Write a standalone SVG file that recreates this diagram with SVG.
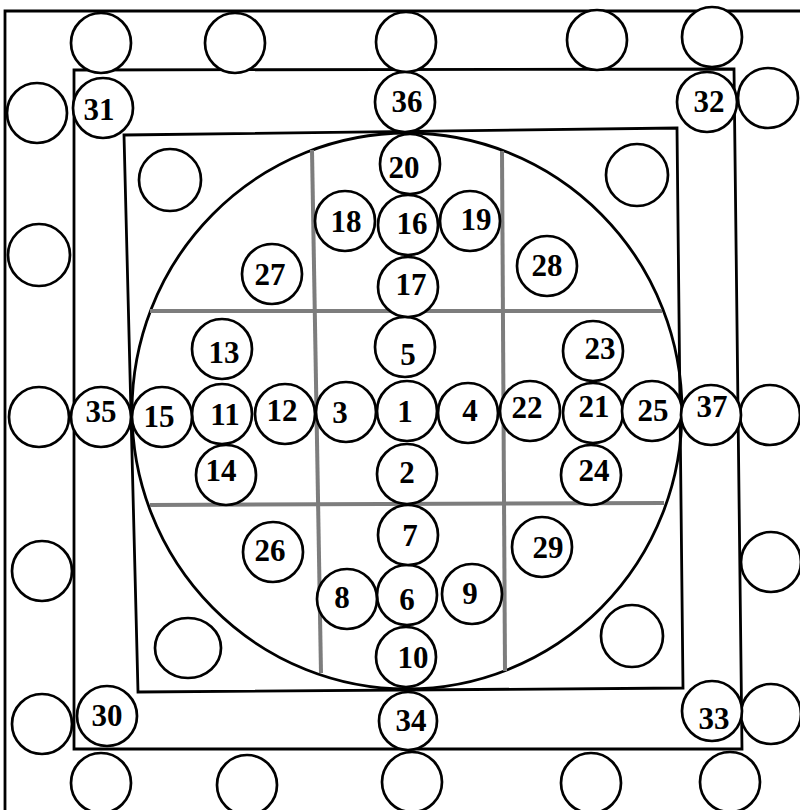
<svg xmlns="http://www.w3.org/2000/svg" width="800" height="810" viewBox="0 0 800 810">
<style>
.f{fill:none;stroke:#000;stroke-width:2.8}
.c{fill:#fff;stroke:#000;stroke-width:2.7}
.g{fill:none;stroke:#7d7d7d;stroke-width:4}
.t{font-family:"Liberation Serif","Times New Roman",serif;font-weight:bold;font-size:31px;text-anchor:middle;fill:#000}
</style>
<rect width="800" height="810" fill="#fff"/>
<g id="frames">
<path class="f" d="M5,810 V11 H800"/>
<path class="f" d="M74,70 L734,69 L742,749 L74,749 Z"/>
<path class="f" d="M124,135 L677,128 L683,688 L138,692 Z"/>
<ellipse class="f" cx="407" cy="411" rx="275" ry="278"/>
</g>
<g id="grid">
<path class="g" d="M312,150 L321,673"/>
<path class="g" d="M502,151 L505,671"/>
<path class="g" d="M150,311 L662,311"/>
<path class="g" d="M150,505 L664,503"/>
</g>
<g id="empty">
<circle class="c" cx="101" cy="43" r="30"/>
<circle class="c" cx="235" cy="43" r="30"/>
<circle class="c" cx="406" cy="42" r="30"/>
<circle class="c" cx="597" cy="40" r="30"/>
<circle class="c" cx="712" cy="37" r="30"/>
<circle class="c" cx="101" cy="783" r="30"/>
<circle class="c" cx="247" cy="785" r="30"/>
<circle class="c" cx="412" cy="782" r="30"/>
<circle class="c" cx="591" cy="783" r="30"/>
<circle class="c" cx="730" cy="782" r="30"/>
<circle class="c" cx="37" cy="113" r="30"/>
<circle class="c" cx="39" cy="255" r="31"/>
<circle class="c" cx="39" cy="417" r="30"/>
<circle class="c" cx="42" cy="571" r="30"/>
<circle class="c" cx="42" cy="724" r="30"/>
<circle class="c" cx="768" cy="98" r="30"/>
<circle class="c" cx="770" cy="415" r="30"/>
<circle class="c" cx="771" cy="562" r="30"/>
<circle class="c" cx="771" cy="714" r="30"/>
<circle class="c" cx="170" cy="180" r="31"/>
<circle class="c" cx="637" cy="175" r="31"/>
<ellipse class="c" cx="188" cy="648" rx="33" ry="30"/>
<circle class="c" cx="632" cy="636" r="31"/>
</g>
<g id="n1"><circle class="c" cx="407" cy="411" r="30"/><text class="t" x="405" y="422">1</text></g>
<g id="n2"><circle class="c" cx="407" cy="474" r="30"/><text class="t" x="407" y="483">2</text></g>
<g id="n3"><circle class="c" cx="346" cy="412" r="30"/><text class="t" x="340" y="423">3</text></g>
<g id="n4"><circle class="c" cx="468" cy="413" r="30"/><text class="t" x="470" y="421">4</text></g>
<g id="n5"><circle class="c" cx="405" cy="347" r="30"/><text class="t" x="408" y="365">5</text></g>
<g id="n6"><circle class="c" cx="407" cy="595" r="30"/><text class="t" x="407" y="610">6</text></g>
<g id="n7"><circle class="c" cx="408" cy="535" r="30"/><text class="t" x="410" y="546">7</text></g>
<g id="n8"><circle class="c" cx="347" cy="599" r="30"/><text class="t" x="342" y="608">8</text></g>
<g id="n9"><circle class="c" cx="472" cy="594" r="30"/><text class="t" x="470" y="604">9</text></g>
<g id="n10"><circle class="c" cx="406" cy="657" r="30"/><text class="t" x="413" y="668">10</text></g>
<g id="n11"><circle class="c" cx="222" cy="414" r="30"/><text class="t" x="225" y="425">11</text></g>
<g id="n12"><circle class="c" cx="285" cy="414" r="30"/><text class="t" x="282" y="421">12</text></g>
<g id="n13"><circle class="c" cx="222" cy="349" r="30"/><text class="t" x="224" y="363">13</text></g>
<g id="n14"><circle class="c" cx="226" cy="475" r="30"/><text class="t" x="221" y="481">14</text></g>
<g id="n15"><circle class="c" cx="162" cy="417" r="30"/><text class="t" x="159" y="427">15</text></g>
<g id="n16"><circle class="c" cx="408" cy="225" r="30"/><text class="t" x="412" y="234">16</text></g>
<g id="n17"><circle class="c" cx="408" cy="287" r="30"/><text class="t" x="411" y="295">17</text></g>
<g id="n18"><circle class="c" cx="345" cy="221" r="30"/><text class="t" x="346" y="232">18</text></g>
<g id="n19"><circle class="c" cx="470" cy="221" r="30"/><text class="t" x="476" y="230">19</text></g>
<g id="n20"><circle class="c" cx="410" cy="164" r="30"/><text class="t" x="404" y="178">20</text></g>
<g id="n21"><circle class="c" cx="593" cy="413" r="30"/><text class="t" x="594" y="417">21</text></g>
<g id="n22"><circle class="c" cx="530" cy="411" r="30"/><text class="t" x="527" y="418">22</text></g>
<g id="n23"><circle class="c" cx="593" cy="351" r="30"/><text class="t" x="600" y="359">23</text></g>
<g id="n24"><circle class="c" cx="591" cy="475" r="30"/><text class="t" x="594" y="481">24</text></g>
<g id="n25"><circle class="c" cx="652" cy="411" r="30"/><text class="t" x="653" y="421">25</text></g>
<g id="n26"><circle class="c" cx="273" cy="552" r="30"/><text class="t" x="270" y="561">26</text></g>
<g id="n27"><circle class="c" cx="272" cy="274" r="30"/><text class="t" x="270" y="285">27</text></g>
<g id="n28"><circle class="c" cx="547" cy="266" r="30"/><text class="t" x="547" y="276">28</text></g>
<g id="n29"><circle class="c" cx="542" cy="547" r="30"/><text class="t" x="548" y="558">29</text></g>
<g id="n30"><circle class="c" cx="107" cy="716" r="30"/><text class="t" x="107" y="726">30</text></g>
<g id="n31"><circle class="c" cx="103" cy="108" r="30"/><text class="t" x="99" y="120">31</text></g>
<g id="n32"><circle class="c" cx="707" cy="102" r="30"/><text class="t" x="709" y="112">32</text></g>
<g id="n33"><circle class="c" cx="712" cy="711" r="30"/><text class="t" x="714" y="729">33</text></g>
<g id="n34"><circle class="c" cx="408" cy="721" r="29"/><text class="t" x="411" y="731">34</text></g>
<g id="n35"><circle class="c" cx="101" cy="417" r="30"/><text class="t" x="101" y="422">35</text></g>
<g id="n36"><circle class="c" cx="405" cy="102" r="30"/><text class="t" x="407" y="112">36</text></g>
<g id="n37"><circle class="c" cx="711" cy="415" r="30"/><text class="t" x="712" y="417">37</text></g>
</svg>
